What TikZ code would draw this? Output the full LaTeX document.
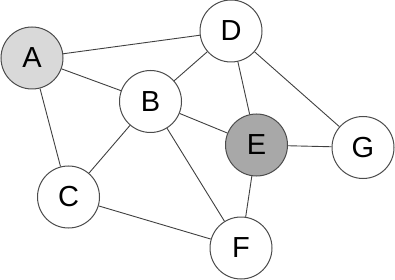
\documentclass[tikz,border=0pt]{standalone}
\usepackage{fontspec}
\setmainfont{Liberation Sans}
\begin{document}
\begin{tikzpicture}[x=1pt,y=-1pt,
  vtx/.style={circle,draw=black!70,line width=1pt,fill=white,minimum size=62pt,inner sep=0pt,font=\fontsize{29}{34}\selectfont},
  lnk/.style={draw=black!75,line width=0.9pt}]
\useasboundingbox (0,0) rectangle (395,280);
\node[vtx,fill=black!15] (A) at (32,58) {A};
\node[vtx] (B) at (150.5,101.5) {B};
\node[vtx] (D) at (231,31) {D};
\node[vtx,fill=black!34] (E) at (256.5,145) {E};
\node[vtx] (G) at (363,147.5) {G};
\node[vtx] (C) at (68.5,197) {C};
\node[vtx] (F) at (241,248) {F};
\draw[lnk] (A) -- (D);
\draw[lnk] (A) -- (B);
\draw[lnk] (A) -- (C);
\draw[lnk] (B) -- (D);
\draw[lnk] (B) -- (C);
\draw[lnk] (B) -- (E);
\draw[lnk] (B) -- (F);
\draw[lnk] (D) -- (E);
\draw[lnk] (D) -- (G);
\draw[lnk] (E) -- (G);
\draw[lnk] (E) -- (F);
\draw[lnk] (C) -- (F);
\end{tikzpicture}
\end{document}
